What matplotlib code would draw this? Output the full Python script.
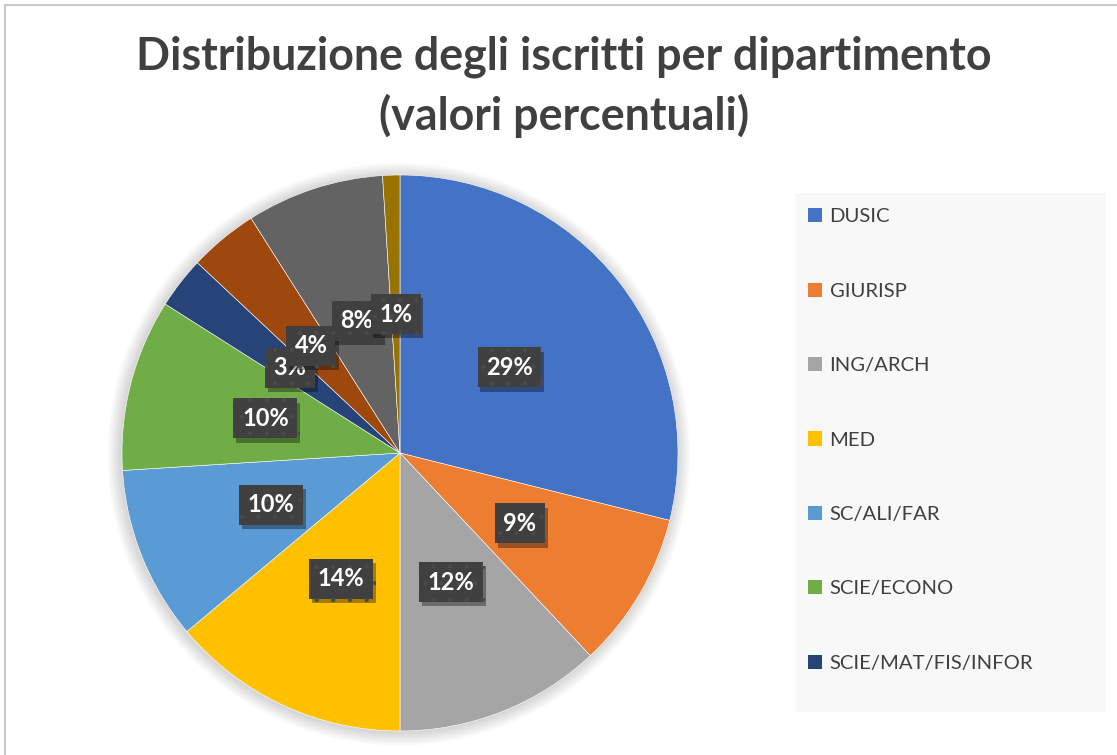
import matplotlib.pyplot as plt
import matplotlib.patheffects as pe
from matplotlib.patches import Rectangle, Circle

# share of enrolled students per department (%)
departments = ["DUSIC", "GIURISP", "ING/ARCH", "MED", "SC/ALI/FAR",
               "SCIE/ECONO", "SCIE/MAT/FIS/INFOR", "ALTRO 1", "ALTRO 2", "ALTRO 3"]
shares = [28.9, 9.1, 12.0, 13.9, 10.1, 10.0, 3.0, 4.0, 8.0, 1.0]
colors = ["#4472C4", "#ED7D31", "#A5A5A5", "#FFC000", "#5B9BD5",
          "#70AD47", "#264478", "#9E480E", "#636363", "#997300"]
legend_shown = 7  # the legend box in the original is cut after 7 entries

TITLE = "Distribuzione degli iscritti per dipartimento\n(valori percentuali)"
FONT = "Lato"


def main():
    plt.rcParams["hatch.linewidth"] = 0.6
    fig = plt.figure(figsize=(11.17, 7.55), dpi=100)

    # chart area border (only top/left visible)
    fig.add_artist(plt.Line2D([5 / 1117, 5 / 1117], [0, 1 - 5 / 755], transform=fig.transFigure,
                              color="#C8C8C8", lw=1.5))
    fig.add_artist(plt.Line2D([5 / 1117, 1], [1 - 5 / 755, 1 - 5 / 755], transform=fig.transFigure,
                              color="#C8C8C8", lw=1.5))

    fig.text(564 / 1117, 1 - 87 / 755, TITLE, ha="center", va="center", fontsize=32.2,
             fontweight="bold", color="#404040", family=FONT, linespacing=1.45)

    ax = fig.add_axes([122 / 1117, 24 / 755, 556 / 1117, 556 / 755])

    # soft shadow around the pie
    for k in range(8):
        ax.add_patch(Circle((-0.004, -0.004), 1.0 + 0.006 * (k + 1), facecolor="#000000",
                            alpha=0.018, edgecolor="none", zorder=0, clip_on=False))

    wedges, texts = ax.pie(shares, colors=colors, startangle=90, counterclock=False,
                           labels=[f"{v:.0f}%" for v in shares], labeldistance=0.5,
                           wedgeprops=dict(linewidth=0.4, edgecolor="#FFFFFF", zorder=1))
    ax.set_xlim(-1, 1)
    ax.set_ylim(-1, 1)

    for t in texts:
        t.set_ha("center")
        t.set_va("center")
        t.set_fontsize(17)
        t.set_fontweight("bold")
        t.set_family(FONT)
        t.set_color("white")
        t.set_bbox(dict(boxstyle="square,pad=0.36", facecolor="#404040", edgecolor="#4A4A4A",
                        linewidth=0, hatch="."))
        t.get_bbox_patch().set_path_effects([
            pe.SimplePatchShadow(offset=(2, -3), shadow_rgbFace="#000000", alpha=0.35),
            pe.Normal()])

    # legend background and entries
    fig.add_artist(Rectangle((795 / 1117, 1 - 712 / 755), 311 / 1117, 519 / 755,
                             transform=fig.transFigure, facecolor="#F8F8F8", edgecolor="none",
                             zorder=0))
    leg = fig.legend(wedges[:legend_shown], departments[:legend_shown], loc="upper left",
                     bbox_to_anchor=(790 / 1117, 1 - 190 / 755), frameon=False,
                     prop=dict(family=FONT, size=14.6), labelcolor="#404040",
                     handlelength=0.7, handleheight=0.7, handletextpad=0.35,
                     labelspacing=2.82)
    for h in leg.legend_handles:
        h.set_linewidth(0)

    fig.savefig("out.png", dpi=100)
    plt.close(fig)


if __name__ == "__main__":
    main()
